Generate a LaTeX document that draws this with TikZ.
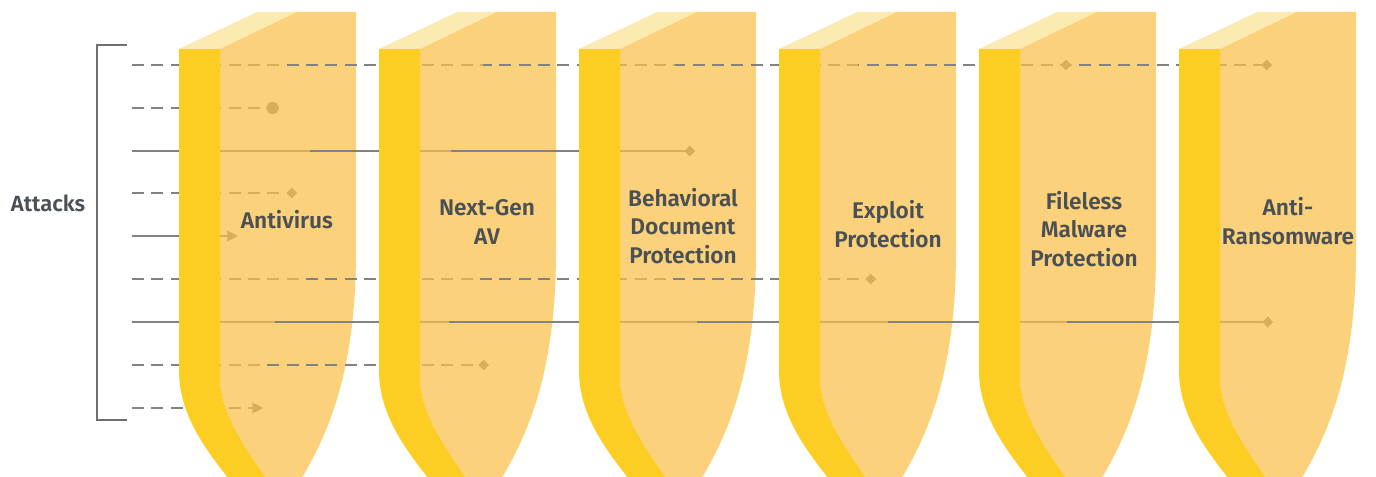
\documentclass[tikz,border=0pt]{standalone}
\usepackage{fontspec}
\newfontfamily\lblfont{Fira Sans}[BoldFont={Fira Sans SemiBold}]
\usetikzlibrary{arrows.meta,shapes.geometric}

\definecolor{stripyellow}{RGB}{252,205,34}
\definecolor{topyellow}{RGB}{252,234,179}
\definecolor{faceyellow}{RGB}{249,193,72}
\definecolor{atkgray}{RGB}{128,130,132}
\definecolor{brkgray}{RGB}{110,111,113}
\definecolor{txtgray}{RGB}{74,80,85}

\tikzset{
	solidatk/.style={draw=atkgray, line width=1.5pt},
	dashatk/.style={solidatk, dash pattern=on 9pt off 5.5pt},
	hitdia/.style={-{Turned Square[length=8pt,width=8pt]}},
	hitdot/.style={-{Circle[length=9.5pt]}},
	hitarr/.style={-{Triangle[length=8pt,width=8pt]}},
	shieldlbl/.style={font=\lblfont\bfseries\fontsize{17}{21.5}\selectfont, text=txtgray, align=center},
	shield/.pic={
		%side strip
		\fill [stripyellow] (0,0) -- (41,0) -- (41,328) .. controls (41,371) and (76,411) .. (105,456) -- (59,441) .. controls (26,401) and (0,366) .. (0,321) -- cycle ;
		%top
		\fill [topyellow] (0,0) -- (78,-37) -- (118,-37) -- (41,0) -- cycle ;
		%front face
		\fill [faceyellow, fill opacity=0.72] (41,0) -- (118,-37) -- (177,-37) -- (177,201) .. controls (177,321) and (151,391) .. (105,456) .. controls (76,411) and (41,371) .. (41,328) -- cycle ;
	}
}
\tikzset{every picture/.style={line width=0.75pt}}

\begin{document}
\begin{tikzpicture}[x=0.75pt,y=0.75pt,yscale=-1,xscale=1]
	\useasboundingbox (0,0) rectangle (1376,477);
	\clip (0,0) rectangle (1376,477);

	%Bracket
	\draw [brkgray, line width=1pt] (127,45) -- (97,45) -- (97,420) -- (127,420) ;
	% Text Node
	\node [font=\lblfont\bfseries\fontsize{16.5}{20}\selectfont, text=txtgray] (attacks) at (48,203) {Attacks};

	%attack start and end points
	\foreach \r/\y in {1/65,2/108,3/151,4/193,5/236,6/279,7/322,8/365,9/408}
		\coordinate (atk\r) at (132,\y);
	\coordinate (hit1) at (1272,65);
	\coordinate (hit2) at (279,108);
	\coordinate (hit3) at (695,151);
	\coordinate (hit4) at (297,193);
	\coordinate (hit5) at (238,236);
	\coordinate (hit6) at (876,279);
	\coordinate (hit7) at (1273,322);
	\coordinate (hit8) at (489,365);
	\coordinate (hit9) at (263,408);

	%attacks (behind the shields)
	\draw [dashatk, hitdia] (atk1) -- (hit1);
	\draw [dashatk, hitdot] (atk2) -- (hit2);
	\draw [solidatk, hitdia] (atk3) -- (hit3);
	\draw [dashatk, hitdia] (atk4) -- (hit4);
	\draw [solidatk, hitarr] (atk5) -- (hit5);
	\draw [dashatk, hitdia] (atk6) -- (hit6);
	\draw [solidatk, hitdia] (atk7) -- (hit7);
	\draw [dashatk, hitdia] (atk8) -- (hit8);
	\draw [dashatk, hitarr] (atk9) -- (hit9);
	\node [diamond, fill=atkgray, inner sep=0pt, minimum size=8.5pt] (mid1) at (1066,65) {};

	%Shield 1
	\pic [yscale=-1] (sh1) at (179,49) {shield};
	\foreach \r/\s/\xs in {1/dashatk/283, 3/solidatk/310, 6/dashatk/302, 7/solidatk/275, 8/dashatk/267}
		{\begin{scope} \clip (\xs,0) rectangle (379,477); \draw [\s] (atk\r) -- (hit\r); \end{scope}}
	%Shield 2
	\pic [yscale=-1] (sh2) at (379,49) {shield};
	\foreach \r/\s/\xs in {1/dashatk/483, 3/solidatk/451, 6/dashatk/473, 7/solidatk/449}
		{\begin{scope} \clip (\xs,0) rectangle (579,477); \draw [\s] (atk\r) -- (hit\r); \end{scope}}
	%Shield 3
	\pic [yscale=-1] (sh3) at (579,49) {shield};
	\foreach \r/\s/\xs in {1/dashatk/675, 6/dashatk/670, 7/solidatk/697}
		{\begin{scope} \clip (\xs,0) rectangle (779,477); \draw [\s] (atk\r) -- (hit\r); \end{scope}}
	%Shield 4
	\pic [yscale=-1] (sh4) at (779,49) {shield};
	\foreach \r/\s/\xs in {1/dashatk/858, 7/solidatk/888}
		{\begin{scope} \clip (\xs,0) rectangle (979,477); \draw [\s] (atk\r) -- (hit\r); \end{scope}}
	%Shield 5
	\pic [yscale=-1] (sh5) at (979,49) {shield};
	\foreach \r/\s/\xs in {1/dashatk/1072, 7/solidatk/1067}
		{\begin{scope} \clip (\xs,0) rectangle (1179,477); \draw [\s] (atk\r) -- (hit\r); \end{scope}}
	%Shield 6
	\pic [yscale=-1] (sh6) at (1179,49) {shield};

	% Text Node
	\node [shieldlbl] (antivirus) at (287,220) {Antivirus};
	% Text Node
	\node [shieldlbl] (nextgen) at (487,222) {Next-Gen\\AV};
	% Text Node
	\node [shieldlbl] (behavioral) at (683,226) {Behavioral\\Document\\Protection};
	% Text Node
	\node [shieldlbl] (exploit) at (888,224) {Exploit\\Protection};
	% Text Node
	\node [shieldlbl] (fileless) at (1084,229) {Fileless\\Malware\\Protection};
	% Text Node
	\node [shieldlbl] (antiransom) at (1288,221) {Anti-\\Ransomware};

\end{tikzpicture}
\end{document}
